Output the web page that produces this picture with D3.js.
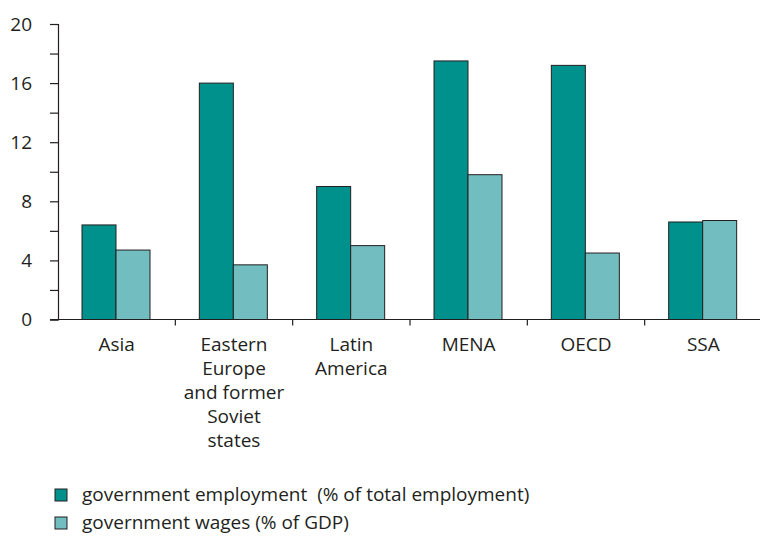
<!DOCTYPE html>
<html>
<head>
<meta charset="utf-8">
<script src="https://cdn.jsdelivr.net/npm/d3@7"></script>
<style>
  body { margin: 0; background: #fff; }
  text { font-family: "Open Sans", "Noto Sans", sans-serif; fill: #231f20; }
</style>
</head>
<body>
<svg id="chart" width="760" height="543"></svg>
<script>
// Données du graphique
const regions = ['Asia', 'Eastern Europe and former Soviet states', 'Latin America', 'MENA', 'OECD', 'SSA'];
const regionLines = [['Asia'], ['Eastern', 'Europe', 'and former', 'Soviet', 'states'], ['Latin', 'America'], ['MENA'], ['OECD'], ['SSA']];
const employment = [6.4, 16.0, 9.0, 17.5, 17.2, 6.6];
const wages = [4.7, 3.7, 5.0, 9.8, 4.5, 6.7];
const seriesNames = ['government employment  (% of total employment)', 'government wages (% of GDP)'];
const seriesColors = ['#00918c', '#72bdbf'];
const yTicks = [0, 4, 8, 12, 16, 20];

const svg = d3.select('#chart');
const x0 = 58, x1 = 762, yTop = 24, yBottom = 319.5;

const x = d3.scaleBand().domain(regions).range([x0, x1]);
const xSeries = d3.scaleBand().domain([0, 1]).range([24, 92]);
const y = d3.scaleLinear().domain([0, 20]).range([yBottom, yTop]);

// Axe Y
const yAxis = d3.axisLeft(y).tickValues(d3.range(0, 21, 2)).tickSize(8)
    .tickFormat(d => yTicks.includes(d) ? d : '');
const gy = svg.append('g').attr('transform', `translate(${x0},0)`).call(yAxis);
gy.select('.domain').attr('stroke', '#231f20').attr('stroke-width', 1.2);
gy.selectAll('.tick line').attr('stroke', '#231f20').attr('stroke-width', 1.2);
gy.selectAll('.tick text').attr('x', -26).attr('font-size', 19).attr('font-family', '"Open Sans", sans-serif').attr('fill', '#231f20');

// Barres
const groups = svg.append('g').selectAll('g')
    .data(regions)
    .enter().append('g')
    .attr('transform', d => `translate(${x(d)},0)`);

[employment, wages].forEach((values, s) => {
    groups.append('rect')
        .attr('x', xSeries(s))
        .attr('width', xSeries.bandwidth())
        .attr('y', (d, i) => y(values[i]))
        .attr('height', (d, i) => y(0) - y(values[i]))
        .attr('fill', seriesColors[s])
        .attr('stroke', '#231f20')
        .attr('stroke-width', 1);
});

// Axe X
svg.append('line')
    .attr('x1', x0 - 8).attr('x2', 760)
    .attr('y1', y(0)).attr('y2', y(0))
    .attr('stroke', '#231f20').attr('stroke-width', 1.2);

svg.append('g').selectAll('line')
    .data(regions.slice(1))
    .enter().append('line')
    .attr('x1', d => x(d)).attr('x2', d => x(d))
    .attr('y1', y(0)).attr('y2', y(0) + 6)
    .attr('stroke', '#231f20').attr('stroke-width', 1.2);

// Étiquettes des catégories
regions.forEach((r, i) => {
    const t = svg.append('text')
        .attr('x', x(r) + x.bandwidth() / 2)
        .attr('y', 351)
        .attr('text-anchor', 'middle')
        .attr('font-size', 19);
    regionLines[i].forEach((line, j) => {
        t.append('tspan')
            .attr('x', x(r) + x.bandwidth() / 2)
            .attr('dy', j === 0 ? 0 : 24)
            .text(line);
    });
});

// Légende
const legend = svg.append('g').selectAll('g')
    .data(seriesNames)
    .enter().append('g')
    .attr('transform', (d, i) => `translate(55,${489 + i * 28})`);

legend.append('rect')
    .attr('width', 12).attr('height', 12)
    .attr('fill', (d, i) => seriesColors[i])
    .attr('stroke', '#231f20').attr('stroke-width', 1);

legend.append('text')
    .attr('x', 27).attr('y', 12)
    .attr('font-size', 19)
    .attr('xml:space', 'preserve')
    .style('white-space', 'pre')
    .text(d => d);
</script>
</body>
</html>
